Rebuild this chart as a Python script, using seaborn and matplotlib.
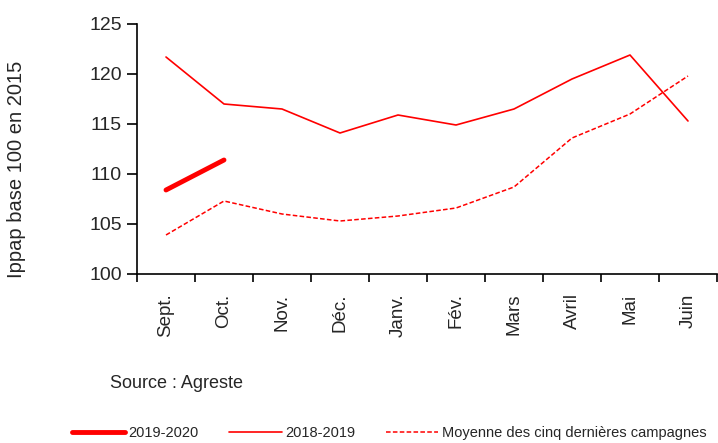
import matplotlib
matplotlib.use("Agg")
import matplotlib.pyplot as plt
import seaborn as sns
import numpy as np
import pandas as pd

months = ["Sept.", "Oct.", "Nov.", "Déc.", "Janv.", "Fév.", "Mars", "Avril", "Mai", "Juin"]
s_2019_2020 = [108.4, 111.4]
s_2018_2019 = [121.7, 117.0, 116.5, 114.1, 115.9, 114.9, 116.5, 119.5, 121.9, 115.3]
s_moyenne = [103.9, 107.3, 106.0, 105.3, 105.8, 106.6, 108.7, 113.6, 116.0, 119.8]
series_names = ["2019-2020", "2018-2019", "Moyenne des cinq dernières campagnes"]
yticks = [100, 105, 110, 115, 120, 125]

sns.set_theme(style="white")
plt.rcParams["font.family"] = ["Liberation Sans", "DejaVu Sans"]

fig = plt.figure(figsize=(7.18, 4.43), dpi=100)
ax = fig.add_axes([137/718, 1-274/443, 580/718, 250/443])

pos = np.arange(len(months))
df1 = pd.DataFrame({"x": pos[:len(s_2019_2020)], "y": s_2019_2020})
df2 = pd.DataFrame({"x": pos, "y": s_2018_2019})
df3 = pd.DataFrame({"x": pos, "y": s_moyenne})

sns.lineplot(data=df3, x="x", y="y", ax=ax, color="#ff0000", lw=1.1,
             linestyle=(0, (3, 1.5)), label=series_names[2])
sns.lineplot(data=df2, x="x", y="y", ax=ax, color="#ff0000", lw=1.2, label=series_names[1])
sns.lineplot(data=df1, x="x", y="y", ax=ax, color="#ff0000", lw=3.5,
             solid_capstyle="round", label=series_names[0])

ax.set_xlim(-0.5, len(months) - 0.5)
ax.set_ylim(100, 125)
ax.set_yticks(yticks)
ax.set_yticklabels([str(v) for v in yticks], fontsize=14)
ax.set_xticks(pos)
ax.set_xticklabels(months, rotation=90, fontsize=13.5)
ax.set_xticks(np.arange(len(months) + 1) - 0.5, minor=True)
ax.tick_params(axis="x", which="major", length=0, pad=14)
ax.tick_params(axis="x", which="minor", length=6, width=1.2, color="black", direction="out", bottom=True)
ax.tick_params(axis="y", length=7, width=1.2, color="black", direction="out", left=True, pad=4)
for s in ["top", "right"]:
    ax.spines[s].set_visible(False)
for s in ["left", "bottom"]:
    ax.spines[s].set_color("black")
    ax.spines[s].set_linewidth(1.2)
ax.set_xlabel("")
ax.set_ylabel("Ippap base 100 en 2015", fontsize=14.5)
ax.yaxis.set_label_coords(-111/580, 0.42)
ax.grid(False)

handles, labels = ax.get_legend_handles_labels()
order = [labels.index(n) for n in series_names]
ax.get_legend().remove()
fig.legend([handles[i] for i in order], [labels[i] for i in order],
           loc="center left", bbox_to_anchor=(72/718, 1-433/443), ncol=3, frameon=False,
           fontsize=10.5, handlelength=3.6, handletextpad=0.25, columnspacing=2.1,
           borderpad=0, borderaxespad=0)

fig.text(110/718, 1-383/443, "Source : Agreste", fontsize=13, va="center", ha="left")

fig.savefig("out.png", dpi=100)
